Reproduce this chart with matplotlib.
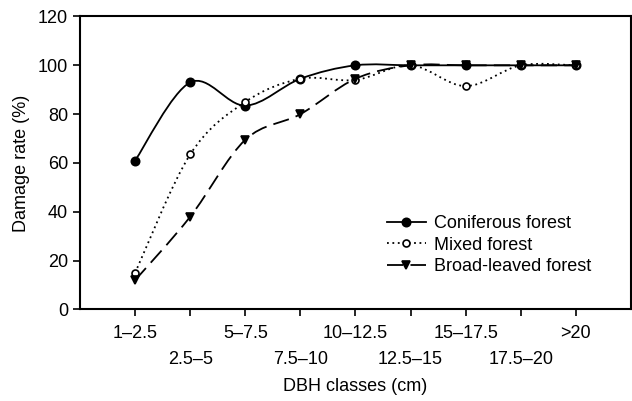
import matplotlib.pyplot as plt
from matplotlib.path import Path
from matplotlib.patches import PathPatch
from matplotlib.lines import Line2D

plt.rcParams['font.family'] = ['Liberation Sans', 'DejaVu Sans']

classes = ['1\u20132.5', '2.5\u20135', '5\u20137.5', '7.5\u201310', '10\u201312.5',
           '12.5\u201315', '15\u201317.5', '17.5\u201320', '>20']
coniferous = [61, 93, 83.5, 94.5, 100, 100, 100, 100, 100]
mixed = [15, 63.5, 85, 94.5, 94, 100, 91.5, 100, 100]
broadleaved = [12, 38, 69.5, 80, 94.5, 100, 100, 100, 100]


def smooth_path(xs, ys, k=1.0):
    # cardinal spline through the points, drawn as cubic bezier segments
    n = len(xs)
    verts = [(xs[0], ys[0])]
    codes = [Path.MOVETO]
    for i in range(n - 1):
        x0, y0 = xs[max(i - 1, 0)], ys[max(i - 1, 0)]
        x1, y1 = xs[i], ys[i]
        x2, y2 = xs[i + 1], ys[i + 1]
        x3, y3 = xs[min(i + 2, n - 1)], ys[min(i + 2, n - 1)]
        c1 = (x1 + k * (x2 - x0) / 6, y1 + k * (y2 - y0) / 6)
        c2 = (x2 - k * (x3 - x1) / 6, y2 - k * (y3 - y1) / 6)
        verts += [c1, c2, (x2, y2)]
        codes += [Path.CURVE4] * 3
    return Path(verts, codes)


x = list(range(1, len(classes) + 1))

fig = plt.figure(figsize=(6.32, 4.01), dpi=100)
ax = fig.add_axes([0.1266, 0.2282, 0.8718, 0.7307])

series = [
    (coniferous, '-', 'o', 'black', 'Coniferous forest', 6),
    (mixed, (0, (1, 2)), 'o', 'white', 'Mixed forest', 5),
    (broadleaved, (0, (9, 4)), 'v', 'black', 'Broad-leaved forest', 5.5),
]
handles = []
for ys, ls, mk, fc, lab, ms in series:
    patch = PathPatch(smooth_path(x, ys), facecolor='none', edgecolor='black',
                      lw=1.3, linestyle=ls)
    ax.add_patch(patch)
    ax.plot(x, ys, linestyle='none', marker=mk, ms=ms, mfc=fc, mec='black',
            mew=1.2, zorder=3)
    handles.append(Line2D([], [], color='black', lw=1.3, linestyle=ls, marker=mk,
                          ms=ms, mfc=fc, mec='black', mew=1.2))

ax.set_xlim(0, 10)
ax.set_ylim(0, 120)
ax.set_yticks(range(0, 121, 20))
# staggered labels: odd classes on the first row, even classes on the second
ax.set_xticks(x[::2])
ax.set_xticklabels(classes[::2])
ax.set_xticks(x[1::2], minor=True)
ax.set_xticklabels(classes[1::2], minor=True)
ax.tick_params(labelsize=13, direction='out', length=5, width=1.2)
ax.tick_params(axis='x', which='both', length=5, width=1.2, labelsize=13)
ax.tick_params(axis='x', which='major', pad=6)
ax.tick_params(axis='x', which='minor', pad=25)
for s in ax.spines.values():
    s.set_linewidth(1.5)
ax.set_xlabel('DBH classes (cm)', fontsize=13, labelpad=7)
ax.set_ylabel('Damage rate (%)', fontsize=13, labelpad=6)

ax.legend(handles, [s[4] for s in series], loc='center left', frameon=False,
          fontsize=13, handlelength=2.2, handletextpad=0.4, labelspacing=0.25,
          borderpad=0.4, bbox_to_anchor=(0.527, 0.22))

fig.savefig('out.png', dpi=100)
